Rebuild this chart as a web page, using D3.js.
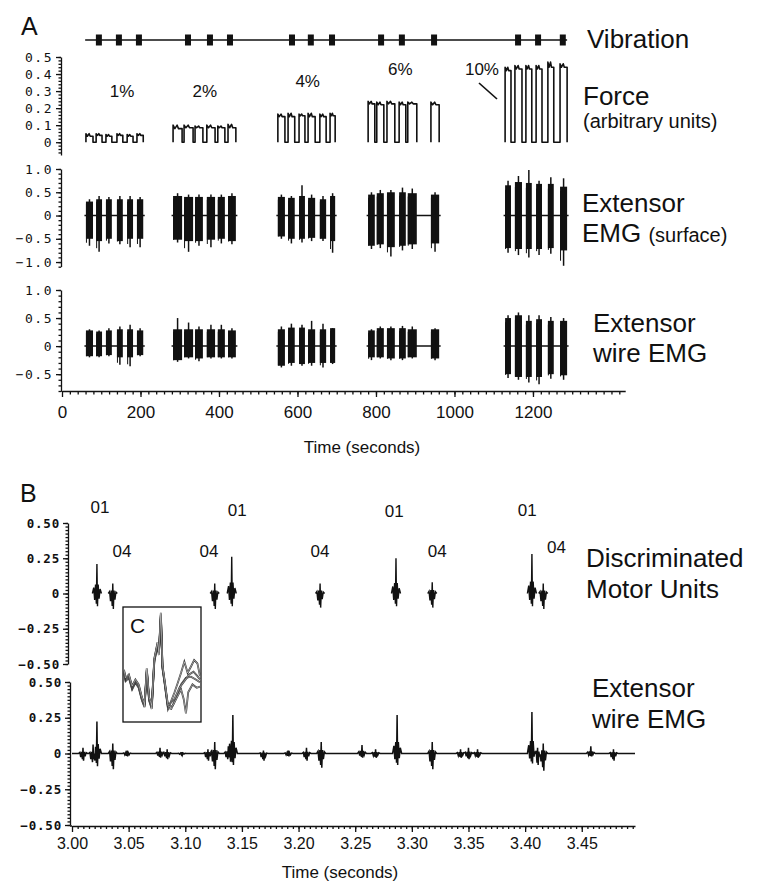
<!DOCTYPE html>
<html>
<head>
<meta charset="utf-8">
<script src="https://cdn.jsdelivr.net/npm/d3@7"></script>
<style>
  body { margin: 0; background: #fff; }
  text { font-family: "Liberation Sans", Arial, sans-serif; fill: #111; }
  .ya .tick text { font-family: "DejaVu Sans Mono", monospace; font-size: 13px; letter-spacing: 1.5px; }
  .yb .tick text { font-family: "DejaVu Sans Mono", monospace; font-size: 12.5px; font-weight: bold; letter-spacing: 0.8px; }
  .xa .tick text { font-size: 17px; }
  .xb .tick text { font-size: 16px; }
  .domain, .tick line { stroke: #111; stroke-width: 1.3; }
</style>
</head>
<body>
<svg width="757" height="888"></svg>
<script>
// ---- panel A data (time in seconds) ----
const vibSpan = [59, 1287];
const vibTimes = [94, 145, 196, 321, 377, 428, 586, 634, 688, 813, 866, 948, 1162, 1213, 1276];

const pctLabels = ["1%", "2%", "4%", "6%", "10%"];
const pctLabelTime = [153, 364, 626, 862, 1070];
const pctLabelForce = [0.265, 0.265, 0.325, 0.395, 0.395];

const conGroup = [0,0,0,0,0,0, 1,1,1,1,1,1, 2,2,2,2,2,2, 3,3,3,3,3,3, 4,4,4,4,4,4];
const conStart = [61, 87, 112, 140, 166, 191, 283, 311, 339, 369, 397, 423, 550, 576, 604, 627, 657, 683,
                  780, 802, 828, 859, 881, 940, 1129, 1154, 1182, 1208, 1238, 1269];
const conEnd   = [79, 102, 127, 155, 181, 207, 306, 334, 359, 390, 415, 443, 568, 593, 619, 645, 673, 696,
                  797, 820, 848, 876, 904, 961, 1144, 1172, 1197, 1223, 1253, 1287];

const forceLevel = [0.035, 0.04, 0.035, 0.04, 0.035, 0.04,  0.08, 0.085, 0.085, 0.085, 0.085, 0.085,
                    0.15, 0.15, 0.155, 0.15, 0.15, 0.155,  0.225, 0.22, 0.225, 0.22, 0.225, 0.22,
                    0.42, 0.43, 0.43, 0.43, 0.44, 0.44];
const forcePeak  = [0.05, 0.05, 0.045, 0.05, 0.045, 0.05,  0.1, 0.1, 0.095, 0.1, 0.095, 0.105,
                    0.165, 0.17, 0.165, 0.17, 0.165, 0.17,  0.24, 0.235, 0.24, 0.235, 0.235, 0.235,
                    0.44, 0.45, 0.45, 0.45, 0.47, 0.46];

const surfHi   = [.3,.35,.35,.35,.35,.35, .42,.4,.4,.4,.4,.42, .4,.38,.42,.38,.35,.42, .45,.48,.5,.5,.48,.45, .65,.72,.7,.68,.68,.62];
const surfLo   = [-.5,-.55,-.5,-.55,-.5,-.5, -.52,-.55,-.55,-.52,-.5,-.55, -.45,-.5,-.5,-.48,-.5,-.55, -.65,-.62,-.68,-.65,-.62,-.6, -.7,-.72,-.72,-.72,-.7,-.75];
const surfPkHi = [.35,.42,.4,.42,.42,.4, .48,.45,.45,.45,.45,.48, .45,.42,.65,.45,.42,.48, .5,.55,.55,.6,.58,.5, .75,.85,.98,.75,.82,.8];
const surfPkLo = [-.65,-.78,-.6,-.62,-.68,-.68, -.58,-.78,-.65,-.68,-.6,-.62, -.5,-.6,-.58,-.55,-.55,-.8, -.72,-.7,-.88,-.75,-.72,-.78, -.8,-.85,-.9,-.85,-.82,-1.08];

const wireHi   = [.28,.26,.28,.3,.3,.28, .3,.3,.3,.3,.3,.28, .3,.33,.33,.3,.3,.32, .28,.32,.32,.32,.3,.3, .5,.55,.45,.48,.45,.45];
const wireLo   = [-.18,-.18,-.16,-.2,-.2,-.16, -.25,-.2,-.22,-.2,-.2,-.2, -.35,-.3,-.32,-.3,-.3,-.3, -.2,-.2,-.22,-.22,-.2,-.22, -.5,-.55,-.55,-.55,-.5,-.52];
const wirePkHi = [.3,.28,.32,.35,.38,.32, .5,.42,.35,.38,.38,.32, .35,.4,.38,.45,.4,.32, .3,.35,.35,.36,.35,.32, .55,.6,.55,.55,.52,.5];
const wirePkLo = [-.2,-.2,-.18,-.33,-.36,-.18, -.28,-.22,-.27,-.22,-.22,-.22, -.38,-.35,-.35,-.35,-.38,-.32, -.25,-.22,-.25,-.25,-.22,-.25, -.57,-.6,-.65,-.68,-.58,-.6];

// ---- panel B data (time in seconds, amplitude) ----
const unitT    = [3.022, 3.036, 3.126, 3.141, 3.219, 3.286, 3.318, 3.406, 3.416];
const unitId   = ["01", "04", "04", "01", "04", "01", "04", "01", "04"];
const unitUp   = [0.21, 0.07, 0.07, 0.26, 0.07, 0.25, 0.08, 0.28, 0.07];
const unitDown = [-0.09, -0.11, -0.11, -0.09, -0.10, -0.09, -0.10, -0.09, -0.11];
const unitLabelT = [3.0247, 3.0442, 3.121, 3.1458, 3.219, 3.2844, 3.3224, 3.4019, 3.4276];
const unitLabelV = [0.57, 0.26, 0.26, 0.55, 0.26, 0.54, 0.26, 0.55, 0.29];

const wireT    = [3.0097, 3.0186, 3.022, 3.036, 3.0486, 3.0777, 3.084, 3.097, 3.120, 3.126, 3.138, 3.142,
                  3.169, 3.191, 3.207, 3.220, 3.256, 3.268, 3.287, 3.318, 3.343, 3.350, 3.358,
                  3.406, 3.411, 3.416, 3.458, 3.478];
const wireUp   = [.04, .04, .22, .07, .02, .04, .03, .01, .03, .08, .05, .27,
                  .02, .02, .04, .08, .06, .03, .27, .08, .03, .04, .03,
                  .29, .04, .07, .05, .03];
const wireDown = [-.05, -.08, -.09, -.11, -.02, -.03, -.04, -.01, -.05, -.11, -.05, -.08,
                  -.05, -.02, -.05, -.10, -.03, -.03, -.08, -.11, -.03, -.04, -.03,
                  -.07, -.08, -.12, -.02, -.05];

// spike waveform template: time offset (ms) and relative amplitude
const spikeMs  = [-4, -2.8, -2, -1.2, -0.5, 0, 0.5, 1.1, 1.9, 2.8, 4];
const spikeRel = [0, 0.2, -0.5, 0.3, -0.8, 1, -1, 0.3, -0.4, 0.15, 0];

// inset C: overlaid unit waveforms (x 0..1, amplitude -1..1)
const insetX  = [0, .021, .064, .107, .15, .193, .236, .27, .30, .33, .365, .399, .442, .459, .485, .506, .536, .579];
const insetY  = [-.125, -.27, -.21, -.42, -.30, -.39, -.62, -.74, -.10, -.62, -.77, .08, .37, .20, .90, -.04, -.33, -.77];
const tail1X = [.614, .665, .708, .751, .794, .837, .88, .923, .966, 1];
const tail1Y = [-.68, -.50, -.33, -.15, .05, -.15, -.04, .08, .02, -.21];
const tail2X = [.622, .687, .751, .815, .88, .944, 1];
const tail2Y = [-.80, -.59, -.36, -.24, -.22, -.27, -.32];
const tail3X = [.644, .708, .751, .785, .815, .845, .901, .957, 1];
const tail3Y = [-.74, -.56, -.45, -.62, -.88, -.50, -.36, -.42, -.40];
const tail4X = [.665, .730, .794, .858, .914, .966, 1];
const tail4Y = [-.62, -.42, -.30, -.18, -.13, -.21, -.27];

// ---- drawing ----
const svg = d3.select("svg");
svg.append("rect").attr("width", 757).attr("height", 888).attr("fill", "#fff");

const xA = d3.scaleLinear().domain([0, 1435]).range([62, 625.2]);
const yForce = d3.scaleLinear().domain([-0.075, 0.5]).range([155, 57]);
const ySurf = d3.scaleLinear().domain([-1.1, 1.0]).range([266.7, 169]);
const yWire = d3.scaleLinear().domain([-0.8, 1.0]).range([391, 290]);

const xB = d3.scaleLinear().domain([3.0, 3.497]).range([72, 635]);
const yB1 = d3.scaleLinear().domain([-0.5, 0.5]).range([664, 523]);
const yB2 = d3.scaleLinear().domain([-0.5, 0.5]).range([825, 682]);

function steps(a, b, s) {
  const n = Math.round((b - a) / s);
  return d3.range(n + 1).map(i => +(a + i * s).toFixed(4));
}

function leftAxis(cls, x, scale, major, fmt, minorStep, pad) {
  const d = scale.domain();
  svg.append("g").attr("transform", `translate(${x},0)`)
    .call(d3.axisLeft(scale).tickValues(steps(Math.ceil(d[0] / minorStep) * minorStep, d[1], minorStep))
      .tickFormat("").tickSize(2.5).tickSizeOuter(0))
    .call(g => g.select(".domain").remove());
  svg.append("g").attr("class", cls).attr("transform", `translate(${x},0)`)
    .call(d3.axisLeft(scale).tickValues(major).tickFormat(fmt).tickSize(5).tickSizeOuter(0).tickPadding(pad));
}

leftAxis("ya", 61, yForce, [0, 0.1, 0.2, 0.3, 0.4, 0.5], d => d === 0 ? "0" : d3.format(".1f")(d), 0.02, 3);
leftAxis("ya", 61, ySurf, [-1, -0.5, 0, 0.5, 1], d => d === 0 ? "0" : d3.format(".1f")(d), 0.1, 3);
leftAxis("ya", 61, yWire, [-0.5, 0, 0.5, 1], d => d === 0 ? "0" : d3.format(".1f")(d), 0.1, 3);
leftAxis("yb", 68, yB1, [-0.5, -0.25, 0, 0.25, 0.5], d => d === 0 ? "0" : d3.format(".2f")(d), 0.025, 3);
leftAxis("yb", 70, yB2, [-0.5, -0.25, 0, 0.25, 0.5], d => d === 0 ? "0" : d3.format(".2f")(d), 0.025, 3);

// x axes
svg.append("g").attr("transform", "translate(0,391)")
  .call(d3.axisBottom(xA).tickValues(steps(20, 1420, 20)).tickFormat("").tickSize(3.5).tickSizeOuter(0))
  .call(g => g.select(".domain").remove());
svg.append("g").attr("class", "xa").attr("transform", "translate(0,391)")
  .call(d3.axisBottom(xA).tickValues([0, 200, 400, 600, 800, 1000, 1200]).tickFormat(d3.format("d"))
    .tickSize(6).tickSizeOuter(0).tickPadding(9));
svg.append("line").attr("x1", 61).attr("x2", 62).attr("y1", 391).attr("y2", 391).attr("stroke", "#111").attr("stroke-width", 1.3);

svg.append("g").attr("transform", "translate(0,826)")
  .call(d3.axisBottom(xB).tickValues(steps(3.005, 3.495, 0.005)).tickFormat("").tickSize(3).tickSizeOuter(0))
  .call(g => g.select(".domain").remove());
svg.append("g").attr("class", "xb").attr("transform", "translate(0,826)")
  .call(d3.axisBottom(xB).tickValues(steps(3.0, 3.45, 0.05)).tickFormat(d3.format(".2f")).tickSize(6).tickSizeOuter(0).tickPadding(6));
svg.append("line").attr("x1", 70).attr("x2", 72).attr("y1", 826).attr("y2", 826).attr("stroke", "#111").attr("stroke-width", 1.3);

// vibration bar
svg.append("line").attr("x1", xA(vibSpan[0])).attr("x2", xA(vibSpan[1]))
  .attr("y1", 40).attr("y2", 40).attr("stroke", "#111").attr("stroke-width", 1.3);
svg.selectAll(".vib").data(vibTimes).enter().append("rect")
  .attr("x", d => xA(d) - 3).attr("y", 34.5).attr("width", 6).attr("height", 11).attr("fill", "#111");

// force traces: consecutive contractions joined along the baseline when close together
const idx = d3.range(conStart.length);
const runs = [];
idx.forEach(i => {
  const last = runs[runs.length - 1];
  if (last && conGroup[last[last.length - 1]] === conGroup[i] && conStart[i] - conEnd[last[last.length - 1]] < 20) last.push(i);
  else runs.push([i]);
});
const forceLine = d3.line().x(d => xA(d[0])).y(d => yForce(d[1]));
runs.forEach(list => {
  const pts = [];
  list.forEach(i => {
    const w = conEnd[i] - conStart[i];
    pts.push([conStart[i], 0], [conStart[i], forcePeak[i]], [conStart[i] + w * 0.2, forceLevel[i]],
             [conStart[i] + w * 0.45, forcePeak[i]], [conStart[i] + w * 0.6, forceLevel[i]],
             [conEnd[i], forceLevel[i]], [conEnd[i], 0]);
  });
  svg.append("path").attr("d", forceLine(pts)).attr("fill", "none")
    .attr("stroke", "#111").attr("stroke-width", 1.6).attr("stroke-linejoin", "round");
});

// percent labels
svg.selectAll(".pct").data(pctLabels).enter().append("text")
  .attr("x", (d, i) => xA(pctLabelTime[i])).attr("y", (d, i) => yForce(pctLabelForce[i]))
  .attr("text-anchor", "middle").style("font-size", "17px").text(d => d);
svg.append("line").attr("x1", 479).attr("y1", 83).attr("x2", 497).attr("y2", 99)
  .attr("stroke", "#111").attr("stroke-width", 1.6);

// EMG bursts
const groups = d3.group(idx, i => conGroup[i]);
function emg(y, hi, lo, pkHi, pkLo) {
  groups.forEach(list => {
    const a = conStart[list[0]], b = conEnd[list[list.length - 1]];
    svg.append("line").attr("x1", xA(a) - 1.5).attr("x2", xA(b) + 1.5)
      .attr("y1", y(0)).attr("y2", y(0)).attr("stroke", "#111").attr("stroke-width", 1.5);
  });
  svg.selectAll(null).data(idx).enter().append("rect")
    .attr("x", i => xA(conStart[i])).attr("width", i => xA(conEnd[i]) - xA(conStart[i]))
    .attr("y", i => y(hi[i])).attr("height", i => y(lo[i]) - y(hi[i])).attr("fill", "#111");
  svg.selectAll(null).data(idx).enter().append("line")
    .attr("x1", i => xA((conStart[i] + conEnd[i]) / 2)).attr("x2", i => xA((conStart[i] + conEnd[i]) / 2))
    .attr("y1", i => y(pkHi[i])).attr("y2", i => y(pkLo[i])).attr("stroke", "#111").attr("stroke-width", 1.5);
  svg.selectAll(null).data(idx).enter().append("line")
    .attr("x1", i => xA(conStart[i]) + 0.5).attr("x2", i => xA(conStart[i]) + 0.5)
    .attr("y1", i => y(hi[i] * 0.85)).attr("y2", i => y(pkLo[i] * 0.9)).attr("stroke", "#111").attr("stroke-width", 1);
}
emg(ySurf, surfHi, surfLo, surfPkHi, surfPkLo);
emg(yWire, wireHi, wireLo, wirePkHi, wirePkLo);

// spike helper: returns a piecewise-linear scale for one spike
function spikeScale(t, up, down) {
  return d3.scaleLinear()
    .domain(spikeMs.map(m => t + m / 1000))
    .range(spikeRel.map(r => r >= 0 ? r * up : r * -down))
    .clamp(true);
}

// discriminated motor units
const unitLine = d3.line().x(d => xB(d[0])).y(d => yB1(d[1]));
unitT.forEach((t, i) => {
  const pts = spikeMs.map((m, k) => [t + m / 1000, spikeRel[k] >= 0 ? spikeRel[k] * unitUp[i] : spikeRel[k] * -unitDown[i]]);
  svg.append("path").attr("d", unitLine(pts)).attr("fill", "none")
    .attr("stroke", "#111").attr("stroke-width", 1.4);
});
svg.selectAll(".unitlab").data(unitId).enter().append("text")
  .attr("x", (d, i) => xB(unitLabelT[i])).attr("y", (d, i) => yB1(unitLabelV[i]))
  .attr("text-anchor", "middle").style("font-size", "17px").text(d => d);

// wire EMG trace (sum of spikes on a flat baseline)
const spikes = wireT.map((t, i) => spikeScale(t, wireUp[i], wireDown[i]));
const sampleT = [3.0, 3.497];
wireT.forEach(t => spikeMs.forEach(m => sampleT.push(t + m / 1000)));
sampleT.sort((a, b) => a - b);
const wirePts = sampleT.map(t => [t, d3.sum(spikes, s => s(t))]);
svg.append("path")
  .attr("d", d3.line().x(d => xB(d[0])).y(d => yB2(d[1]))(wirePts))
  .attr("fill", "none").attr("stroke", "#111").attr("stroke-width", 1.5);

// inset C
const xC = d3.scaleLinear().domain([0, 1]).range([124, 200]);
const yC = d3.scaleLinear().domain([-1, 1]).range([720, 609]);
svg.append("rect").attr("x", 123).attr("y", 607).attr("width", 78).attr("height", 115)
  .attr("fill", "#fff").attr("stroke", "#111").attr("stroke-width", 1.3);
const cLine = d3.line().x(d => xC(d[0])).y(d => yC(d[1]));
const head = insetX.map((x, i) => [x, insetY[i]]);
[[tail1X, tail1Y], [tail2X, tail2Y], [tail3X, tail3Y], [tail4X, tail4Y]].forEach(([tx, ty], k) => {
  const pts = head.map(p => [p[0], p[1] + (k - 1.5) * 0.02]).concat(tx.map((x, i) => [x, ty[i]]));
  svg.append("path").attr("d", cLine(pts)).attr("fill", "none").attr("stroke", "#333").attr("stroke-width", 1.8);
  svg.append("path").attr("d", cLine(pts)).attr("fill", "none").attr("stroke", "#fff").attr("stroke-width", 0.5);
});
svg.append("text").attr("x", 130).attr("y", 633).style("font-size", "21px").text("C");

// panel letters and series labels
svg.append("text").attr("x", 21).attr("y", 35).style("font-size", "25px").text("A");
svg.append("text").attr("x", 20).attr("y", 502).style("font-size", "25px").text("B");

const lab = (x, y, size, s) => svg.append("text").attr("x", x).attr("y", y).style("font-size", size + "px").text(s);
lab(587, 48, 26, "Vibration");
lab(583, 105, 26, "Force");
lab(583, 128, 20, "(arbitrary units)");
lab(582, 212, 26, "Extensor");
svg.append("text").attr("x", 582).attr("y", 242).style("font-size", "26px")
  .text("EMG ").append("tspan").style("font-size", "20px").text("(surface)");
lab(593, 332, 26, "Extensor");
lab(593, 362, 26, "wire EMG");
lab(586, 567, 26, "Discriminated");
lab(586, 598, 26, "Motor Units");
lab(592, 697, 26, "Extensor");
lab(592, 728, 26, "wire EMG");

svg.append("text").attr("x", 362).attr("y", 453).attr("text-anchor", "middle").style("font-size", "17px").text("Time (seconds)");
svg.append("text").attr("x", 340).attr("y", 878).attr("text-anchor", "middle").style("font-size", "17px").text("Time (seconds)");
</script>
</body>
</html>
